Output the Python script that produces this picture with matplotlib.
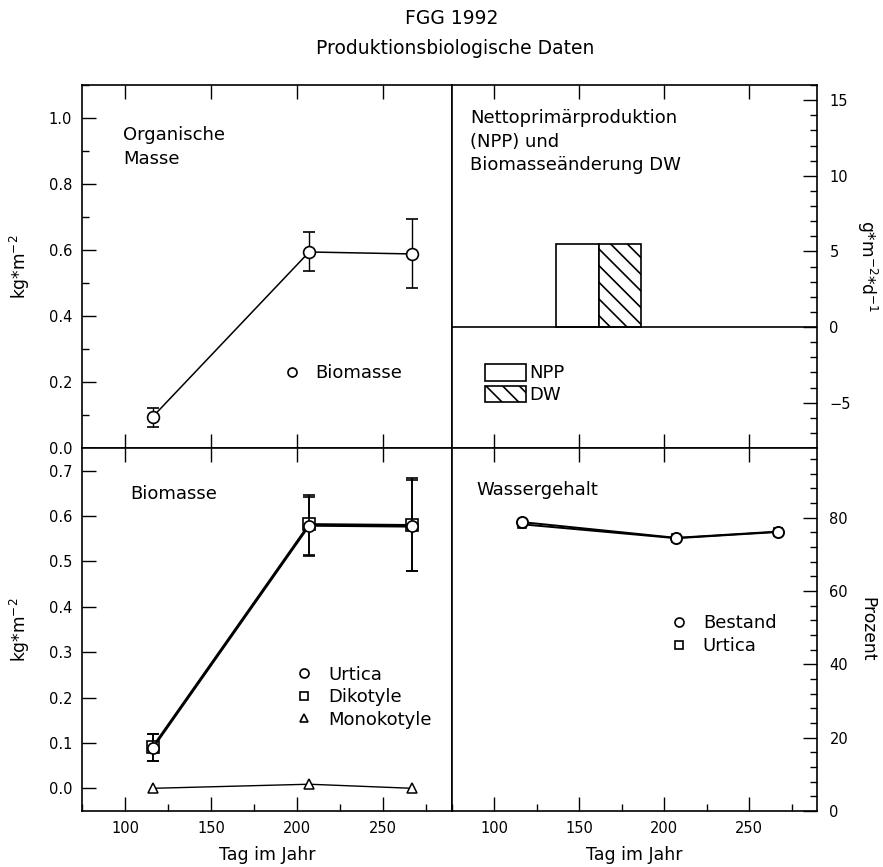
import matplotlib
matplotlib.use('Agg')
import matplotlib.pyplot as plt
from matplotlib.lines import Line2D
from matplotlib.ticker import MultipleLocator, FormatStrFormatter

plt.rcParams['font.family'] = ['DejaVu Sans']
plt.rcParams['hatch.linewidth'] = 1.2

# Tag im Jahr der Probennahmen
days = [116, 207, 267]

# Organische Masse (oben links)
org_biomasse = [0.094, 0.594, 0.588]
org_err_lo = [0.030, 0.058, 0.103]
org_err_hi = [0.027, 0.061, 0.106]

# NPP und Biomasseaenderung DW (oben rechts)
npp_start = [136.5]
dw_start = [161.5]
bar_len = 25
npp_val = [5.5]
dw_val = [5.5]

# Biomasse (unten links)
urtica = [0.088, 0.579, 0.577]
urtica_lo = [0.028, 0.066, 0.099]
urtica_hi = [0.031, 0.068, 0.106]
dikotyle = [0.091, 0.582, 0.580]
dikotyle_lo = [0.030, 0.068, 0.102]
dikotyle_hi = [0.029, 0.061, 0.100]
monokotyle = [0.0, 0.009, 0.0]

# Wassergehalt (unten rechts)
wasser_bestand = [78.8, 74.5, 76.2]
wasser_urtica = [78.2, 74.4, 76.1]

xticks = [100, 150, 200, 250]

fig = plt.figure(figsize=(8.83, 8.67), dpi=100)
W, H = 883.0, 867.0
L, M, R = 82 / W, 452 / W, 817 / W
T, C, B = 1 - 85 / H, 1 - 448 / H, 1 - 811 / H

ax_tl = fig.add_axes([L, C, M - L, T - C])
ax_tr = fig.add_axes([M, C, R - M, T - C])
ax_bl = fig.add_axes([L, B, M - L, C - B])
ax_br = fig.add_axes([M, B, R - M, C - B])

fs_txt = 13
fs_tick = 10.5
fs_ylab = 12.3
fs_xlab = 12.5

for ax in [ax_tl, ax_tr, ax_bl, ax_br]:
    ax.set_xlim(75, 290)
    ax.set_xticks(xticks)
    for s in ax.spines.values():
        s.set_linewidth(1.2)
    ax.tick_params(which='major', direction='in', length=10, width=1.0,
                   labelsize=fs_tick, pad=7)
    ax.tick_params(which='minor', direction='in', length=5, width=1.0)

# ---- oben links
ax_tl.errorbar(days, org_biomasse, yerr=[org_err_lo, org_err_hi], color='black',
               lw=1.1, elinewidth=1.0, capsize=4, marker='o', ms=8.5,
               mfc='white', mec='black', mew=1.2, zorder=3)
ax_tl.set_ylim(0, 1.1)
ax_tl.set_yticks([0, 0.2, 0.4, 0.6, 0.8, 1.0])
ax_tl.yaxis.set_minor_locator(MultipleLocator(0.1))
ax_tl.yaxis.set_major_formatter(FormatStrFormatter('%.1f'))
ax_tl.tick_params(axis='x', which='both', top=True, bottom=True, labelbottom=False)
ax_tl.tick_params(axis='y', which='both', left=True, right=False)
ax_tl.set_ylabel('kg*m$^{-2}$', fontsize=fs_ylab, ha='center', va='center')
ax_tl.yaxis.set_label_coords(-0.168, 0.5)
ax_tl.text(0.111, 0.888, 'Organische\nMasse', transform=ax_tl.transAxes,
           fontsize=fs_txt, va='top', ha='left', linespacing=1.42)
h = [Line2D([], [], ls='none', marker='o', ms=6.5, mfc='white', mec='black', mew=1.2)]
ax_tl.legend(h, ['Biomasse'], loc='center left', bbox_to_anchor=(0.544, 0.207),
             frameon=False, fontsize=fs_txt, handlelength=1.0, handletextpad=0.78,
             borderpad=0, borderaxespad=0)

# ---- oben rechts
b_npp = ax_tr.bar(npp_start, npp_val, width=bar_len, align='edge',
                  facecolor='white', edgecolor='black', lw=1.2)
b_dw = ax_tr.bar(dw_start, dw_val, width=bar_len, align='edge',
                 facecolor='white', edgecolor='black', lw=1.2, hatch='\\\\')
ax_tr.axhline(0, color='black', lw=1.2)
ax_tr.set_ylim(-8, 16)
ax_tr.set_yticks([-5, 0, 5, 10, 15])
ax_tr.yaxis.set_minor_locator(MultipleLocator(1))
ax_tr.yaxis.tick_right()
ax_tr.yaxis.set_label_position('right')
ax_tr.tick_params(axis='y', which='both', left=False, right=True, pad=9)
ax_tr.tick_params(axis='x', which='both', top=True, bottom=True, labelbottom=False)
ax_tr.set_yticklabels(['\u22125', '0', '5', '10', '15'])
ax_tr.set_ylabel('g*m$^{-2}$*d$^{-1}$', fontsize=fs_ylab, rotation=270,
                 ha='center', va='center')
ax_tr.yaxis.set_label_coords(1.137, 0.5)
ax_tr.text(0.049, 0.933, 'Nettoprim\u00e4rproduktion\n(NPP) und\nBiomasse\u00e4nderung DW',
           transform=ax_tr.transAxes, fontsize=fs_txt, va='top', ha='left',
           linespacing=1.38)
ax_tr.legend([b_npp, b_dw], ['NPP', 'DW'], loc='center left',
             bbox_to_anchor=(0.09, 0.176), frameon=False, fontsize=fs_txt,
             handlelength=2.3, handleheight=1.05, handletextpad=0.15,
             labelspacing=0.18, borderpad=0, borderaxespad=0)

# ---- unten links
ax_bl.errorbar(days, dikotyle, yerr=[dikotyle_lo, dikotyle_hi], color='black',
               lw=1.6, elinewidth=1.2, capsize=4, marker='s', ms=8,
               mfc='white', mec='black', mew=1.2, zorder=3)
ax_bl.errorbar(days, urtica, yerr=[urtica_lo, urtica_hi], color='black',
               lw=1.6, elinewidth=1.2, capsize=4, marker='o', ms=8,
               mfc='white', mec='black', mew=1.2, zorder=4)
ax_bl.plot(days, monokotyle, color='black', lw=1.0, marker='^', ms=7.5,
           mfc='white', mec='black', mew=1.1, zorder=3)
ax_bl.set_ylim(-0.05, 0.75)
ax_bl.set_yticks([0, 0.1, 0.2, 0.3, 0.4, 0.5, 0.6, 0.7])
ax_bl.yaxis.set_major_formatter(FormatStrFormatter('%.1f'))
ax_bl.xaxis.set_minor_locator(MultipleLocator(50, offset=25))
ax_bl.tick_params(axis='x', which='major', top=True, bottom=True)
ax_bl.tick_params(axis='x', which='minor', top=False, bottom=True)
ax_bl.tick_params(axis='y', which='both', left=True, right=False)
ax_bl.set_xlabel('Tag im Jahr', fontsize=fs_xlab, labelpad=7.5)
ax_bl.set_ylabel('kg*m$^{-2}$', fontsize=fs_ylab, ha='center', va='center')
ax_bl.yaxis.set_label_coords(-0.168, 0.5)
ax_bl.text(0.13, 0.897, 'Biomasse', transform=ax_bl.transAxes,
           fontsize=fs_txt, va='top', ha='left')
h = [Line2D([], [], ls='none', marker='o', ms=6.5, mfc='white', mec='black', mew=1.2),
     Line2D([], [], ls='none', marker='s', ms=5.5, mfc='white', mec='black', mew=1.2),
     Line2D([], [], ls='none', marker='^', ms=6.0, mfc='white', mec='black', mew=1.2)]
ax_bl.legend(h, ['Urtica', 'Dikotyle', 'Monokotyle'], loc='center left',
             bbox_to_anchor=(0.576, 0.314), frameon=False, fontsize=fs_txt,
             handlelength=1.0, handletextpad=0.82, labelspacing=0.25,
             borderpad=0, borderaxespad=0)

# ---- unten rechts
ax_br.plot(days, wasser_urtica, color='black', lw=1.4, marker='s', ms=6,
           mfc='white', mec='black', mew=1.2, zorder=3)
ax_br.plot(days, wasser_bestand, color='black', lw=1.4, marker='o', ms=8,
           mfc='white', mec='black', mew=1.4, zorder=4)
ax_br.set_ylim(0, 99)
ax_br.set_yticks([0, 20, 40, 60, 80])
ax_br.yaxis.set_minor_locator(MultipleLocator(4))
ax_br.yaxis.tick_right()
ax_br.yaxis.set_label_position('right')
ax_br.tick_params(axis='y', which='both', left=False, right=True, pad=9)
ax_br.xaxis.set_minor_locator(MultipleLocator(50, offset=25))
ax_br.tick_params(axis='x', which='major', top=True, bottom=True)
ax_br.tick_params(axis='x', which='minor', top=False, bottom=True)
ax_br.set_xlabel('Tag im Jahr', fontsize=fs_xlab, labelpad=7.5)
ax_br.set_ylabel('Prozent', fontsize=fs_ylab, rotation=270, ha='center', va='center')
ax_br.yaxis.set_label_coords(1.137, 0.5)
ax_br.text(0.068, 0.908, 'Wassergehalt', transform=ax_br.transAxes,
           fontsize=fs_txt, va='top', ha='left')
h = [Line2D([], [], ls='none', marker='o', ms=6.5, mfc='white', mec='black', mew=1.2),
     Line2D([], [], ls='none', marker='s', ms=5.5, mfc='white', mec='black', mew=1.2)]
ax_br.legend(h, ['Bestand', 'Urtica'], loc='center left',
             bbox_to_anchor=(0.597, 0.486), frameon=False, fontsize=fs_txt,
             handlelength=1.0, handletextpad=0.82, labelspacing=0.25,
             borderpad=0, borderaxespad=0)

fig.text(452 / W, 1 - 18 / H, 'FGG 1992', ha='center', va='center', fontsize=13.5)
fig.text(455 / W, 1 - 49 / H, 'Produktionsbiologische Daten', ha='center',
         va='center', fontsize=13.5)

fig.savefig('out.png', dpi=100)
